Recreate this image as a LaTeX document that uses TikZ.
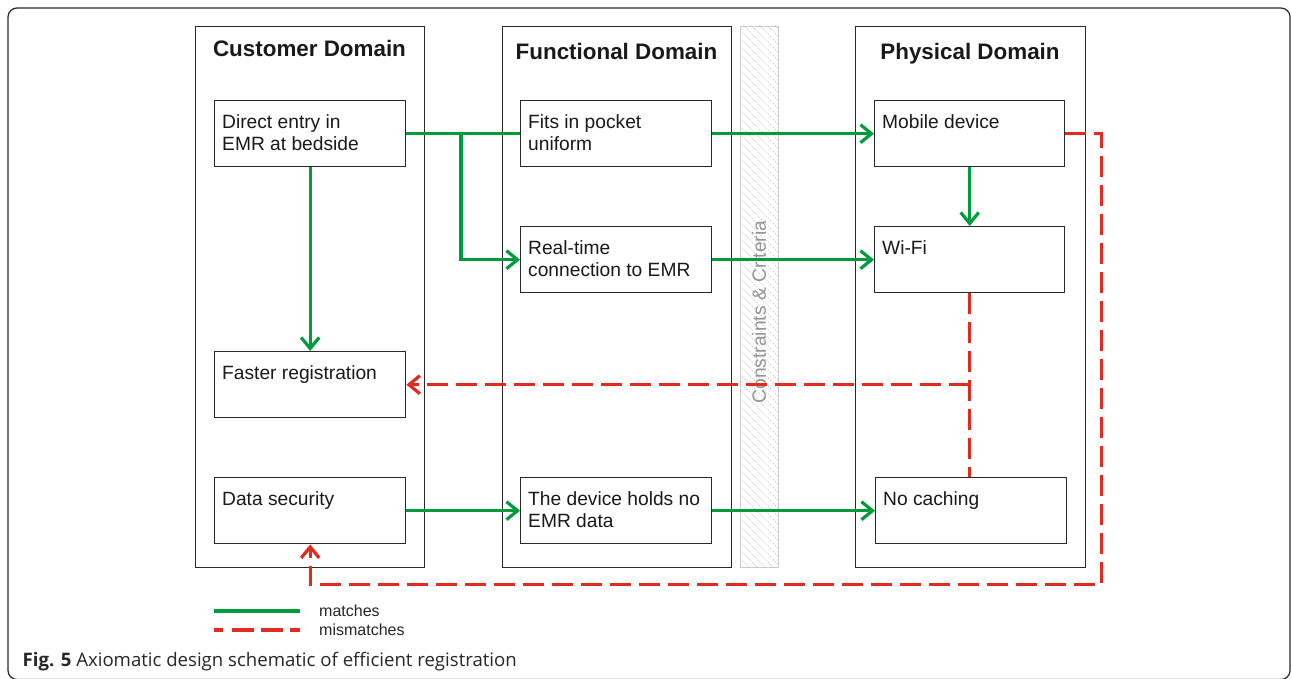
\documentclass[tikz,border=0pt]{standalone}
\usepackage{fontspec}
\setmainfont{Liberation Sans}
\newfontfamily\capfont{Open Sans}
\usetikzlibrary{arrows.meta,calc}
\definecolor{okgreen}{RGB}{0,155,58}
\definecolor{badred}{RGB}{226,42,30}
\definecolor{frame}{RGB}{40,40,40}
\begin{document}
\begin{tikzpicture}[x=1pt,y=-1pt,
  domainbox/.style={draw=frame,line width=1.4pt,anchor=north west,inner sep=0},
  itembox/.style={draw=frame,line width=1.4pt,anchor=north west,inner sep=0,minimum width=191pt,minimum height=66pt},
  itemtext/.style={anchor=north west,inner sep=0,align=left,font=\fontsize{19.2}{22}\selectfont,text=black!90},
  hdr/.style={anchor=base,inner sep=0,font=\fontsize{22.4}{26}\selectfont\bfseries,text=black!90},
  match/.style={draw=okgreen,line width=3.2pt},
  mis/.style={draw=badred,line width=3.2pt,dash pattern=on 21pt off 8pt},
  tip/.style={-{Straight Barb[length=11pt,width=18pt]}},
  legtext/.style={anchor=west,inner sep=0,font=\fontsize{16}{19}\selectfont,text=black!85}
]
\useasboundingbox (0,0) rectangle (1292,679);
\draw[frame,line width=1.2pt,rounded corners=9pt] (8,8) rectangle (1290,679.5);

% domains
\node[domainbox,minimum width=229pt,minimum height=541pt] (cust) at (195,26) {};
\node[domainbox,minimum width=229pt,minimum height=541pt] (func) at (502,26) {};
\node[domainbox,minimum width=230pt,minimum height=541pt] (phys) at (855,26) {};
\node[hdr] (custh) at (309.5,57) {Customer Domain};
\node[hdr] (funch) at (616.5,59.5) {Functional Domain};
\node[hdr] (physh) at (970,59.5) {Physical Domain};

% constraints bar
\node[draw=black!20,line width=1.2pt,anchor=north west,inner sep=0,minimum width=38pt,minimum height=541pt] (cons) at (740,26) {};
\begin{scope}
  \clip (740,26) rectangle (778,567);
  \foreach \k in {-60,-52,...,560}
    \draw[black!30,line width=0.6pt,dash pattern=on 1pt off 1.5pt] (740,26+\k) -- (790,76+\k);
\end{scope}
\node[rotate=90,inner sep=0,font=\fontsize{19.2}{22}\selectfont,text=black!42] (consl) at (759,312) {Constraints \& Criteria};

% items
\node[itembox] (direct) at (214,100) {};
\node[itembox] (faster) at (214,351) {};
\node[itembox] (datasec) at (214,477) {};
\node[itembox] (fits) at (520,100) {};
\node[itembox] (real) at (520,226) {};
\node[itembox] (holds) at (520,477) {};
\node[itembox,minimum width=190pt] (mobile) at (874,100) {};
\node[itembox,minimum width=190pt] (wifi) at (874,226) {};
\node[itembox] (nocache) at (875,477) {};

\newcommand{\itemlabel}[3]{\node[itemtext] (#1t) at ($(#2.north west)+(8,13.5)$) {\rule{0pt}{15pt}#3};}
\itemlabel{direct}{direct}{Direct entry in\\EMR at bedside}
\itemlabel{faster}{faster}{Faster registration}
\itemlabel{datasec}{datasec}{Data security}
\itemlabel{fits}{fits}{Fits in pocket\\uniform}
\itemlabel{real}{real}{Real-time\\connection to EMR}
\itemlabel{holds}{holds}{The device holds no\\EMR data}
\itemlabel{mobile}{mobile}{Mobile device}
\itemlabel{wifi}{wifi}{Wi-Fi}
\itemlabel{nocache}{nocache}{No caching}

% green connectors
\coordinate (br) at (461,133);
\draw[match] (direct.east) -- (fits.west);
\draw[match,tip] (br) |- (real.west);
\draw[match,tip] (fits.east) -- (mobile.west);
\draw[match,tip] (real.east) -- (wifi.west);
\draw[match,tip] (mobile.south) -- (wifi.north);
\draw[match,tip] (direct.south) -- (faster.north);
\draw[match,tip] (datasec.east) -- (holds.west);
\draw[match,tip] (holds.east) -- (nocache.west);

% red connectors
\coordinate (rc) at (1101.5,584.5);
\draw[mis,tip] (mobile.east) -| (rc) -| (datasec.south);
\draw[mis] (wifi.south) -- (wifi.south |- nocache.north);
\draw[mis,tip] (wifi.south |- faster.east) -- (faster.east);

% legend
\coordinate (lg1) at (214,611);
\coordinate (lg2) at (300,611);
\coordinate (lr1) at (214,630);
\coordinate (lr2) at (300,630);
\draw[match] (lg1) -- (lg2);
\draw[mis,dash pattern=on 9pt off 9pt on 22pt off 7pt on 22pt off 7pt on 11pt] (lr1) -- (lr2);
\node[legtext] (lm) at (319,611) {matches};
\node[legtext] (lmm) at (319,630) {mismatches};

% caption
\node[anchor=base west,inner sep=0,font=\capfont\fontsize{18.6}{22}\selectfont,text=black!85] (cap) at (22.5,666) {\textbf{Fig. 5} Axiomatic design schematic of efficient registration};
\end{tikzpicture}
\end{document}
